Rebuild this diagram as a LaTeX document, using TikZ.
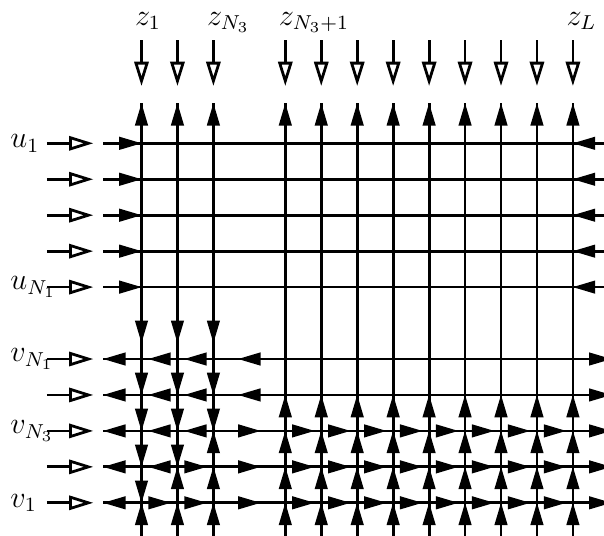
\documentclass[tikz,border=0pt]{standalone}
\usetikzlibrary{arrows.meta,calc}
\begin{document}
\begin{tikzpicture}[x=0.5cm,y=0.5cm,
  grid/.style={line width=1.1pt},
  openarr/.style={line width=1.1pt,-{Triangle[open,length=9.6pt,width=5.6pt]}},
  lab/.style={inner sep=0pt,font=\fontsize{11.5pt}{13pt}\selectfont},
  tipR/.pic={\fill (0,0)--(-0.62,0.185)--(-0.62,-0.185)--cycle;},
  tipL/.pic={\fill (0,0)--(0.62,0.185)--(0.62,-0.185)--cycle;},
  tipU/.pic={\fill (0,0)--(0.185,-0.62)--(-0.185,-0.62)--cycle;},
  tipD/.pic={\fill (0,0)--(0.185,0.62)--(-0.185,0.62)--cycle;},
  midR/.pic={\fill (0.31,0)--(-0.31,0.185)--(-0.31,-0.185)--cycle;},
  midL/.pic={\fill (-0.31,0)--(0.31,0.185)--(0.31,-0.185)--cycle;}]
\useasboundingbox (-3.936,3.986) rectangle (12.865,-10.923);
% named lattice points
\foreach \c in {0,1,2,4,5,6,7,8,9,10,11,12}{
  \coordinate (T-\c) at (\c,1.113);
  \coordinate (B-\c) at (\c,-11.2);
  \coordinate (OTa-\c) at (\c,2.873);
  \coordinate (OTb-\c) at (\c,1.594);
  \foreach \r in {0,1,2,3,4,6,7,8,9,10}{
    \coordinate (p-\c-\r) at (\c,-\r);
  }
}
\foreach \r in {0,1,2,3,4,6,7,8,9,10}{
  \coordinate (L-\r) at (-1.063,-\r);
  \coordinate (R-\r) at (13.07,-\r);
  \coordinate (OLa-\r) at (-2.629,-\r);
  \coordinate (OLb-\r) at (-1.34,-\r);
}
% lines
\foreach \c in {0,1,2,4,5,6,7,8,9,10,11,12}{
  \draw[grid] (T-\c) -- (B-\c);
  \draw[openarr] (OTa-\c) -- (OTb-\c);
  \path (T-\c) pic{tipU};
  \path (p-\c-10) pic{tipU};
}
\foreach \r in {0,1,2,3,4,6,7,8,9,10}{
  \draw[grid] (L-\r) -- (R-\r);
  \draw[openarr] (OLa-\r) -- (OLb-\r);
}
% u rows boundary arrows
\foreach \r in {0,1,2,3,4}{
  \path (p-0-\r) pic{tipR};
  \path (p-12-\r) pic{tipL};
}
% v rows boundary arrows
\foreach \r in {6,7,8,9,10}{
  \path (L-\r) pic{tipL};
  \path (R-\r) pic{tipR};
}
% columns 1..N3 : downward arrows
\foreach \c in {0,1,2}{
  \path ($(p-\c-4)!0.775!(p-\c-6)$) pic{tipD};
  \path (p-\c-7) pic{tipD};
}
\path (p-0-8) pic{tipD};
\path (p-1-8) pic{tipD};
\path (p-2-8) pic{tipD};
\path (p-0-9) pic{tipD};
\path (p-1-9) pic{tipD};
\path (p-0-10) pic{tipD};
\path (p-2-8) pic{tipU};
\path (p-2-9) pic{tipU};
\path (p-1-9) pic{tipU};
% columns N3+1..L : upward arrows
\foreach \c in {4,5,6,7,8,9,10,11,12}{
  \path (p-\c-7) pic{tipU};
  \path (p-\c-8) pic{tipU};
  \path (p-\c-9) pic{tipU};
}
% horizontal interior arrows
\foreach \r in {6,7,8,9}{\path ($(p-0-\r)!0.5!(p-1-\r)$) pic{midL};}
\path ($(p-0-10)!0.5!(p-1-10)$) pic{midR};
\foreach \r in {6,7,8}{\path ($(p-1-\r)!0.5!(p-2-\r)$) pic{midL};}
\foreach \r in {9,10}{\path ($(p-1-\r)!0.5!(p-2-\r)$) pic{midR};}
\foreach \r in {6,7}{\path ($(p-2-\r)!0.5!(p-4-\r)$) pic{midL};}
\foreach \r in {8,9,10}{
  \path ($(p-2-\r)!0.5!(p-4-\r)$) pic{midR};
  \foreach \a/\b in {4/5,5/6,6/7,7/8,8/9,9/10,10/11,11/12}{
    \path ($(p-\a-\r)!0.5!(p-\b-\r)$) pic{midR};
  }
}
% labels
\node[lab,anchor=base west] (z1) at (-0.19,3.29) {$z_1$};
\node[lab,anchor=base west] (zN3) at (1.81,3.29) {$z_{N_3}$};
\node[lab,anchor=base west] (zN31) at (3.81,3.29) {$z_{N_3+1}$};
\node[lab,anchor=base west] (zL) at (11.81,3.29) {$z_L$};
\node[lab,anchor=west] (u1) at (-3.658,0) {$u_1$};
\node[lab,anchor=west] (uN1) at (-3.658,-4) {$u_{N_1}$};
\node[lab,anchor=west] (vN1) at (-3.658,-6) {$v_{N_1}$};
\node[lab,anchor=west] (vN3) at (-3.658,-8) {$v_{N_3}$};
\node[lab,anchor=west] (v1) at (-3.658,-10) {$v_1$};
\end{tikzpicture}
\end{document}
